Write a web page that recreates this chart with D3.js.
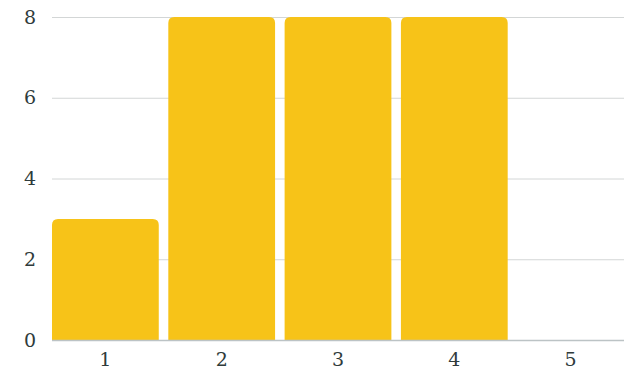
<!DOCTYPE html>
<html>
<head>
<meta charset="utf-8">
<script src="https://cdn.jsdelivr.net/npm/d3@7"></script>
<style>
  html, body { margin: 0; padding: 0; background: #fff; }
  .lbl { font-family: "DejaVu Serif", serif; font-size: 19px; fill: #2f3b3b; }
</style>
</head>
<body>
<svg id="chart" width="632" height="372"></svg>
<script>
const categories = ["1", "2", "3", "4", "5"];
const values = [3, 8, 8, 8, 0];
const yTicks = [0, 2, 4, 6, 8];

const svg = d3.select("#chart");
const margin = { left: 52, right: 8, top: 17, bottom: 32 };
const width = 632, height = 372;

const x = d3.scaleBand()
  .domain(categories)
  .range([margin.left, width - margin.right])
  .paddingInner(0.082)
  .paddingOuter(0);

const y = d3.scaleLinear()
  .domain([0, 8])
  .range([height - margin.bottom, margin.top]);

// horizontal gridlines
svg.append("g")
  .selectAll("line")
  .data(yTicks.filter(d => d !== 0))
  .join("line")
  .attr("x1", margin.left)
  .attr("x2", width - margin.right)
  .attr("y1", d => y(d) + 0.5)
  .attr("y2", d => y(d) + 0.5)
  .attr("stroke", "#d3d6d6")
  .attr("stroke-width", 1);

// bars with rounded top corners
const r = 6;
function barPath(x0, w, yTop, yBase) {
  const h = yBase - yTop;
  if (h <= 0) return "";
  const rr = Math.min(r, h, w / 2);
  return `M${x0},${yBase}V${yTop + rr}Q${x0},${yTop} ${x0 + rr},${yTop}` +
         `H${x0 + w - rr}Q${x0 + w},${yTop} ${x0 + w},${yTop + rr}V${yBase}Z`;
}

svg.append("g")
  .selectAll("path")
  .data(categories.map((c, i) => ({ c, v: values[i] })))
  .join("path")
  .attr("d", d => barPath(x(d.c), x.bandwidth(), y(d.v), y(0)))
  .attr("fill", "#f7c318");

// baseline
svg.append("line")
  .attr("x1", margin.left)
  .attr("x2", width - margin.right)
  .attr("y1", y(0) + 0.5)
  .attr("y2", y(0) + 0.5)
  .attr("stroke", "#bcc3c5")
  .attr("stroke-width", 1.5);

// y axis labels
const yAxis = d3.axisLeft(y).tickValues(yTicks).tickSize(0).tickPadding(0);
svg.append("g")
  .attr("transform", `translate(${margin.left - 16},0)`)
  .call(yAxis)
  .call(g => g.select(".domain").remove())
  .call(g => g.selectAll("text").attr("class", "lbl").attr("fill", null));

// x axis labels
const xAxis = d3.axisBottom(x).tickSize(0).tickPadding(0);
svg.append("g")
  .attr("transform", `translate(0,${y(0) + 12})`)
  .call(xAxis)
  .call(g => g.select(".domain").remove())
  .call(g => g.selectAll("text").attr("class", "lbl").attr("fill", null));
</script>
</body>
</html>
